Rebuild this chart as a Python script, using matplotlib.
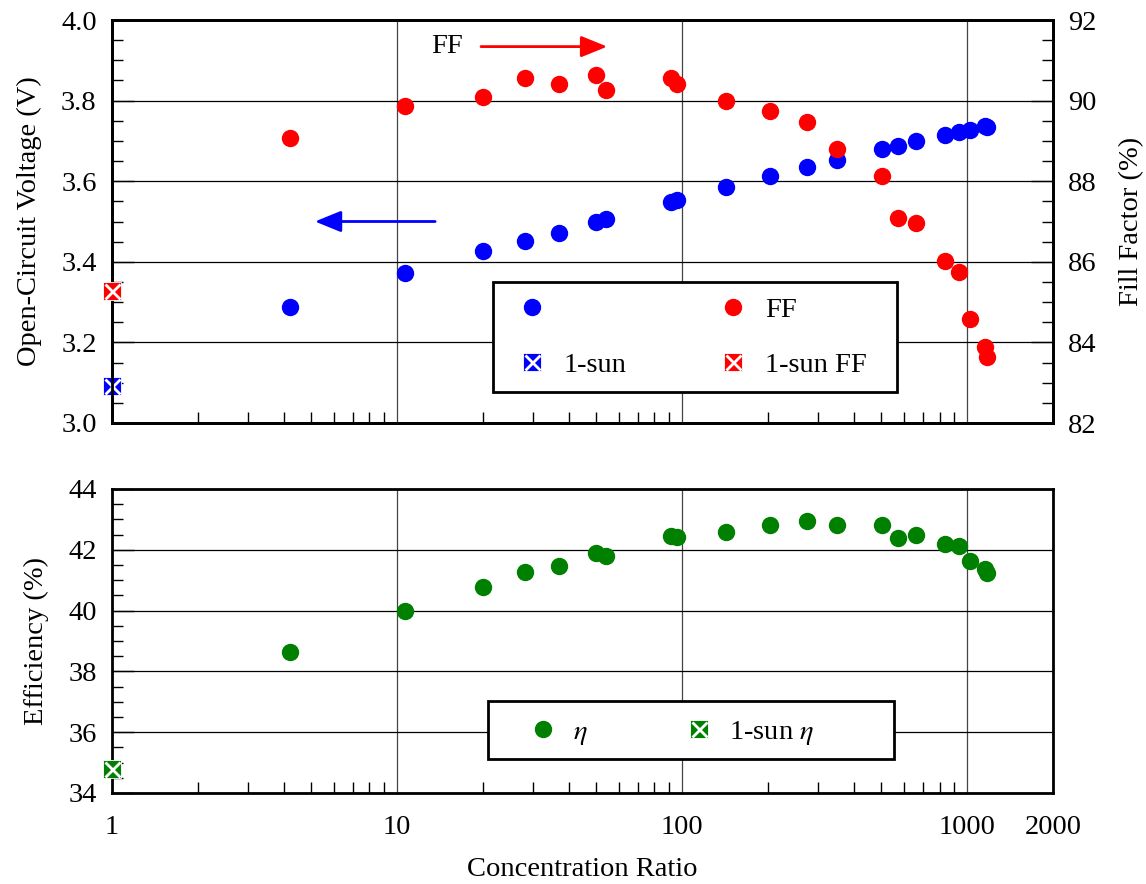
import matplotlib
matplotlib.use("Agg")
import matplotlib.pyplot as plt
from matplotlib.ticker import FixedLocator, LogLocator, MultipleLocator, NullFormatter, FixedFormatter
from matplotlib.patches import Rectangle

plt.rcParams["font.family"] = ["Liberation Serif", "DejaVu Serif"]
plt.rcParams["mathtext.fontset"] = "stix"
FS = 20.5

# Concentration ratios (suns)
conc = [4.2, 10.7, 20.1, 28.0, 36.9, 50.0, 54.1, 91.5, 95.8, 142, 204, 275,
        350, 501, 572, 659, 839, 937, 1027, 1157, 1173]
# Open-circuit voltage (V)
voc = [3.287, 3.371, 3.426, 3.451, 3.472, 3.500, 3.507, 3.549, 3.553, 3.586,
       3.614, 3.635, 3.652, 3.679, 3.687, 3.699, 3.715, 3.722, 3.728, 3.736, 3.735]
# Fill factor (%)
ff = [89.07, 89.87, 90.08, 90.56, 90.42, 90.63, 90.26, 90.55, 90.41, 89.98,
      89.74, 89.46, 88.80, 88.13, 87.09, 86.96, 86.01, 85.74, 84.58, 83.88, 83.64]
# Efficiency (%)
eta = [38.65, 40.00, 40.77, 41.27, 41.47, 41.90, 41.81, 42.45, 42.41, 42.60,
       42.83, 42.95, 42.83, 42.81, 42.40, 42.48, 42.20, 42.13, 41.64, 41.37, 41.25]
# One-sun reference measurement
one_sun_conc = [1.0]
one_sun_voc = [3.092]
one_sun_ff = [85.28]
one_sun_eta = [34.78]

x_ticks = [1, 10, 100, 1000, 2000]
x_tick_labels = ["1", "10", "100", "1000", "2000"]

BLUE, RED, GREEN = "#0000ff", "#ff0000", "#008000"
W, H = 1146, 884
fig = plt.figure(figsize=(W / 100, H / 100), dpi=100)
ax1 = fig.add_axes([112 / W, 1 - 423 / H, (1053 - 112) / W, (423 - 20) / H])
ax3 = fig.add_axes([112 / W, 1 - 793 / H, (1053 - 112) / W, (793 - 489) / H])
ax2 = ax1.twinx()

DOT = 11.5
SQ = 13.5


def fig_xy(px, py):
    return px / W, 1 - py / H


def one_sun(ax, x, y, color):
    a, = ax.plot(x, y, "s", ms=SQ, color=color, mec="white", mew=0.6,
                 clip_on=False, zorder=10, linestyle="none")
    b, = ax.plot(x, y, "x", ms=SQ * 0.8, color="white", mew=2.0,
                 clip_on=False, zorder=11, linestyle="none")
    return (a, b)


def style_axis(ax):
    ax.set_xscale("log")
    ax.set_xlim(1, 2000)
    ax.xaxis.set_major_locator(FixedLocator(x_ticks))
    ax.xaxis.set_minor_locator(LogLocator(base=10, subs=range(2, 10), numticks=20))
    ax.xaxis.set_minor_formatter(NullFormatter())
    ax.tick_params(which="both", direction="in", labelsize=FS)
    ax.tick_params(which="major", length=16, width=1.0)
    ax.tick_params(which="minor", length=8, width=1.0)
    ax.tick_params(axis="x", which="major", length=0)
    ax.tick_params(axis="y", which="major", pad=11)
    for s in ax.spines.values():
        s.set_linewidth(2.0)
    ax.grid(True, which="major", axis="y", color="black", linewidth=0.9)
    ax.grid(True, which="major", axis="x", color="#444444", linewidth=0.9)


def legend_frame(ax, x0, y0, x1, y1):
    fx0, fy1 = fig_xy(x0, y0)
    fx1, fy0 = fig_xy(x1, y1)
    r = Rectangle((fx0, fy0), fx1 - fx0, fy1 - fy0, transform=fig.transFigure,
                  facecolor="white", edgecolor="black", linewidth=2.0,
                  zorder=19, clip_on=False)
    ax.add_patch(r)


# ---- Top panel: Voc (left) and FF (right)
style_axis(ax1)
ax1.set_ylim(3.0, 4.0)
ax1.yaxis.set_major_locator(MultipleLocator(0.2))
ax1.yaxis.set_minor_locator(MultipleLocator(0.05))
ax1.yaxis.set_major_formatter(plt.FuncFormatter(lambda v, p: f"{v:.1f}"))
ax1.tick_params(axis="x", labelbottom=False)
ax1.set_ylabel("Open-Circuit Voltage (V)", fontsize=FS, labelpad=14)
h_voc, = ax1.plot(conc, voc, "o", ms=DOT, color=BLUE, mec=BLUE, linestyle="none")
h_voc1 = one_sun(ax1, one_sun_conc, one_sun_voc, BLUE)

ax2.set_ylim(82, 92)
ax2.yaxis.set_major_locator(MultipleLocator(2))
ax2.yaxis.set_minor_locator(MultipleLocator(0.5))
ax2.tick_params(which="both", direction="in", labelsize=FS)
ax2.tick_params(which="major", length=16, width=1.0, pad=11)
ax2.tick_params(which="minor", length=8, width=1.0)
for s in ax2.spines.values():
    s.set_linewidth(2.0)
ax2.set_ylabel("Fill Factor (%)", fontsize=FS, labelpad=16)
h_ff, = ax2.plot(conc, ff, "o", ms=DOT, color=RED, mec=RED, linestyle="none")
h_ff1 = one_sun(ax2, one_sun_conc, one_sun_ff, RED)

# direction arrows
arrow_style = "-|>,head_length=1.6,head_width=0.65"
ax1.annotate("", xy=(5.15, 3.5), xytext=(13.6, 3.5),
             arrowprops=dict(arrowstyle=arrow_style, color=BLUE, lw=2,
                             mutation_scale=10, shrinkA=0, shrinkB=0))
ax1.annotate("", xy=(54.6, 3.934), xytext=(19.7, 3.934),
             arrowprops=dict(arrowstyle=arrow_style, color=RED, lw=2,
                             mutation_scale=10, shrinkA=0, shrinkB=0))
ax1.text(15.0, 3.934, "FF", fontsize=FS, ha="center", va="center")

legend_frame(ax2, 493, 282, 897, 392)
leg1 = ax2.legend([h_voc, h_voc1, h_ff, h_ff1], [" ", "1-sun", "FF", "1-sun FF"],
                  ncol=2, loc="upper left", bbox_to_anchor=fig_xy(506, 286),
                  bbox_transform=fig.transFigure, borderaxespad=0,
                  fontsize=FS, frameon=False, handlelength=1.0,
                  handletextpad=0.635, columnspacing=3.22, labelspacing=1.01,
                  borderpad=0.4)
leg1.set_zorder(20)

# ---- Bottom panel: efficiency
style_axis(ax3)
ax3.set_ylim(34, 44)
ax3.yaxis.set_major_locator(MultipleLocator(2))
ax3.yaxis.set_minor_locator(MultipleLocator(0.5))
ax3.xaxis.set_major_formatter(FixedFormatter(x_tick_labels))
ax3.tick_params(axis="x", which="major", pad=16)
ax3.set_ylabel("Efficiency (%)", fontsize=FS, labelpad=14)
ax3.set_xlabel("Concentration Ratio", fontsize=FS, labelpad=12)
h_eta, = ax3.plot(conc, eta, "o", ms=DOT, color=GREEN, mec=GREEN, linestyle="none")
h_eta1 = one_sun(ax3, one_sun_conc, one_sun_eta, GREEN)

legend_frame(ax3, 488, 701, 894, 759)
leg2 = ax3.legend([h_eta, h_eta1], [r"$\eta$", r"1-sun $\eta$"],
                  ncol=2, loc="upper left", bbox_to_anchor=fig_xy(517, 708),
                  bbox_transform=fig.transFigure, borderaxespad=0,
                  fontsize=FS, frameon=False, handlelength=1.0,
                  handletextpad=0.575, columnspacing=3.39, borderpad=0.4)
leg2.set_zorder(20)

fig.savefig("out.png", dpi=100)
